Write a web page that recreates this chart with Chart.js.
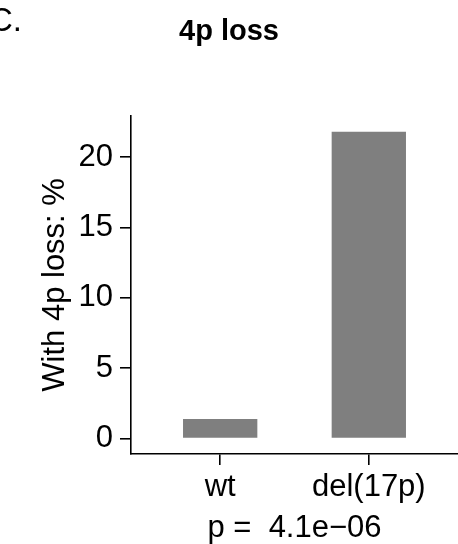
<!DOCTYPE html>
<html>
<head>
<meta charset="utf-8">
<script src="https://cdn.jsdelivr.net/npm/chart.js@4"></script>
<style>
  html, body { margin: 0; padding: 0; background: #fff; }
  #wrap { width: 458px; height: 544px; }
</style>
</head>
<body>
<div id="wrap"><canvas id="myChart" width="458" height="544"></canvas></div>
<script>
// data
const categories = ['wt', 'del(17p)']
const percentWith4pLoss = [1.4, 21.8]
const yTicks = [0, 5, 10, 15, 20]

const FONT = '"Liberation Sans", Arial, sans-serif'

// panel letter, top left (partly cut off in the original)
const panelLetter = {
  id: 'panelLetter',
  afterDraw(chart) {
    const ctx = chart.ctx
    ctx.save()
    ctx.font = '33px ' + FONT
    ctx.fillStyle = '#000'
    ctx.textBaseline = 'alphabetic'
    ctx.fillText('C.', -11, 31)
    ctx.restore()
  }
}

const data = {
  datasets: [
    {
      label: 'With 4p loss: %',
      backgroundColor: '#7f7f7f',
      borderWidth: 0,
      barPercentage: 0.5,
      categoryPercentage: 1,
      data: percentWith4pLoss.map((v, i) => ({ x: i + 1, y: v }))
    }
  ]
}

const config = {
  type: 'bar',
  data: data,
  options: {
    responsive: false,
    animation: false,
    layout: { padding: { left: 0, right: 0, top: 0, bottom: 0 } },
    plugins: {
      legend: { display: false },
      tooltip: { enabled: false },
      title: {
        display: true,
        text: '4p loss',
        color: '#000',
        font: { family: FONT, size: 29, weight: 'bold', lineHeight: 1.2 },
        padding: { top: 15, bottom: 66 }
      }
    },
    scales: {
      x: {
        type: 'linear',
        offset: false,
        min: 0.4,
        max: 2.6,
        afterBuildTicks: scale => {
          scale.ticks = categories.map((c, i) => ({ value: i + 1 }))
        },
        afterFit: scale => {
          scale.height = 90
        },
        ticks: {
          autoSkip: false,
          maxRotation: 0,
          padding: 4,
          color: '#000',
          font: { family: FONT, size: 31 },
          callback: value => categories[value - 1]
        },
        grid: {
          offset: false,
          drawOnChartArea: false,
          drawTicks: true,
          tickLength: 11,
          color: '#000',
          lineWidth: 1.6
        },
        border: { display: true, color: '#000', width: 1.6 },
        title: {
          display: true,
          text: 'p =  4.1e\u221206',
          color: '#000',
          font: { family: FONT, size: 31, lineHeight: 1 },
          padding: { top: 0, bottom: 0 }
        }
      },
      y: {
        min: -1.09,
        max: 22.93,
        afterBuildTicks: scale => {
          scale.ticks = yTicks.map(v => ({ value: v }))
        },
        afterFit: scale => {
          scale.width = 131
        },
        ticks: {
          padding: 7,
          color: '#000',
          font: { family: FONT, size: 31 }
        },
        grid: {
          drawOnChartArea: false,
          drawTicks: true,
          tickLength: 11,
          color: '#000',
          lineWidth: 1.6
        },
        border: { display: true, color: '#000', width: 1.6 },
        title: {
          display: true,
          text: 'With 4p loss: %',
          color: '#000',
          font: { family: FONT, size: 31, lineHeight: 1 },
          padding: { top: 40, bottom: 0 }
        }
      }
    }
  },
  plugins: [panelLetter]
}

const myChart = new Chart(document.getElementById('myChart'), config)
</script>
</body>
</html>
